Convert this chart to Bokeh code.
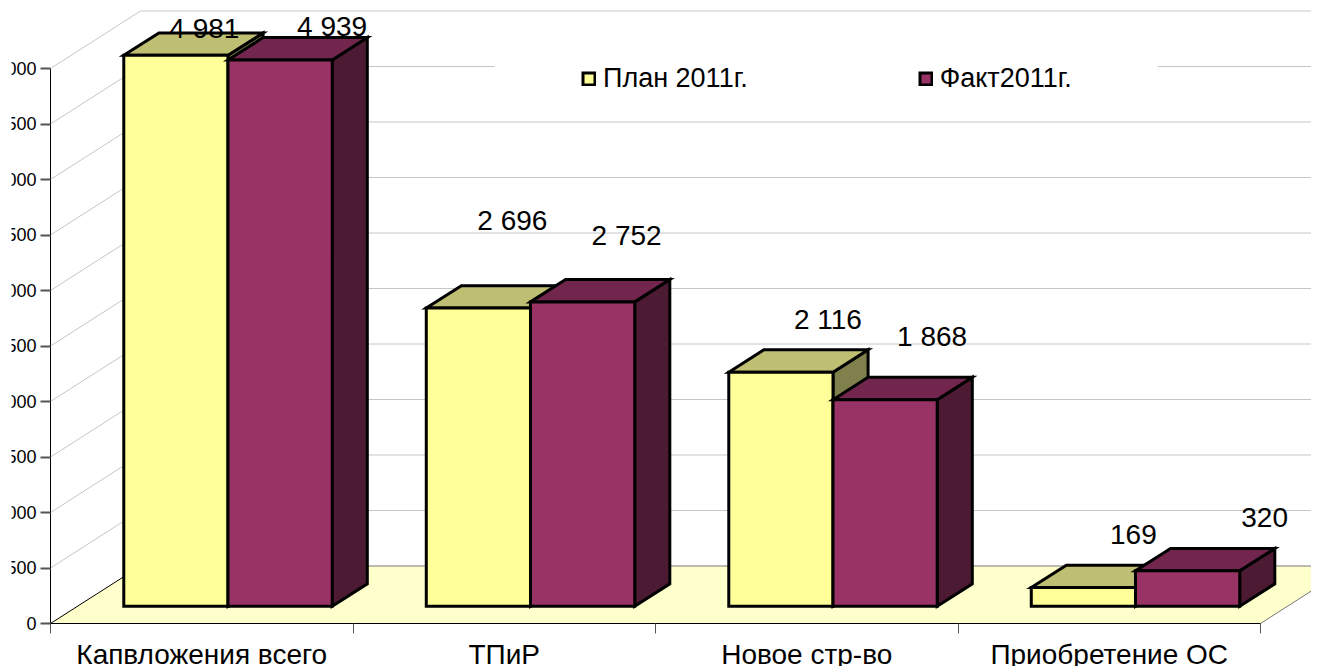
from bokeh.plotting import figure
from bokeh.embed import file_html
from bokeh.resources import INLINE
from bokeh.core.properties import value
from bokeh.models import (ColumnDataSource, LinearAxis, FixedTicker, Legend, LegendItem,
                          BoxAnnotation)

categories = ["Капвложения всего", "ТПиР", "Новое стр-во", "Приобретение ОС"]
plan = [4981, 2696, 2116, 169]
fact = [4939, 2752, 1868, 320]
y_ticks = [0, 500, 1000, 1500, 2000, 2500, 3000, 3500, 4000, 4500, 5000]
y_tick_labels = ["0", "500", "1 000", "1 500", "2 000", "2 500", "3 000", "3 500", "4 000", "4 500", "5 000"]
plan_label = ["4 981", "2 696", "2 116", "169"]
fact_label = ["4 939", "2 752", "1 868", "320"]
plan_label_off = [(28.5, -27), (34, -88), (47, -53), (50, -53)]
fact_label_off = [(52, -33), (44, -66), (47, -63), (77, -53)]

FONT = "Liberation Sans"
PX_X = 302.5      # pixels per category
PX_Y = 0.111      # pixels per value unit
FIG_L, FIG_T, FIG_R, FIG_B = 11, 0, 1311, 666
AX_X, AX_Y = 50, 623
DEPTH_X = 90 / PX_X
DEPTH_Y = 57.5 / PX_Y
BAR_OFF = 0.153
BAR_W = 0.3445
D0, D1 = 0.3, 0.69
BAR_SCALE = 0.9964

p = figure(width=FIG_R - FIG_L, height=FIG_B - FIG_T, output_backend="svg", toolbar_location=None,
           x_range=((FIG_L - AX_X) / PX_X, (FIG_R - AX_X) / PX_X),
           y_range=((AX_Y - FIG_B) / PX_Y, (AX_Y - FIG_T) / PX_Y),
           x_axis_type=None, y_axis_type=None, min_border=0, outline_line_color=None)
p.margin = (0, 0, 0, FIG_L)
p.grid.visible = False
p.background_fill_color = "white"

n = len(categories)
# floor
p.patch([0, n, n + DEPTH_X, DEPTH_X], [0, 0, DEPTH_Y, DEPTH_Y], fill_color="#FFFFCC", line_color=None)
# walls
far = n + DEPTH_X + 1
p.multi_line([[0, DEPTH_X, far] for t in y_ticks[1:]],
             [[t, t + DEPTH_Y, t + DEPTH_Y] for t in y_ticks[1:]], line_color="#c6c6c6", line_width=1)
p.line([DEPTH_X, far], [DEPTH_Y, DEPTH_Y], line_color="#777777", line_width=1)
p.line([n, n + DEPTH_X], [0, DEPTH_Y], line_color="#777777", line_width=1)
p.line([0, DEPTH_X], [0, DEPTH_Y], line_color="black", line_width=1)


def bar(idx, vals, front, top, side):
    x0 = [i + BAR_OFF + idx * BAR_W + D0 * DEPTH_X for i in range(n)]
    x1 = [x + BAR_W for x in x0]
    y0 = [D0 * DEPTH_Y] * n
    y1 = [y + v * BAR_SCALE for y, v in zip(y0, vals)]
    dx, dy = (D1 - D0) * DEPTH_X, (D1 - D0) * DEPTH_Y
    out = None
    for i in range(n):
        style = dict(line_color="black", line_width=3, line_join="miter")
        p.patch([x1[i], x1[i] + dx, x1[i] + dx, x1[i]],
                [y0[i], y0[i] + dy, y1[i] + dy, y1[i]], fill_color=side, **style)
        p.patch([x0[i], x0[i] + dx, x1[i] + dx, x1[i]],
                [y1[i], y1[i] + dy, y1[i] + dy, y1[i]], fill_color=top, **style)
        r = p.quad(left=[x0[i]], right=[x1[i]], bottom=[y0[i]], top=[y1[i]], fill_color=front, **style)
        out = out or r
    return out, x0, x1, y1


bars = []
for idx, (vals, front, top, side) in enumerate([(plan, "#FFFF99", "#BFBF73", "#80804D"),
                                                 (fact, "#993366", "#73264D", "#4D1A33")]):
    bars.append(bar(idx, vals, front, top, side))

for (r, x0, x1, y1), labels, offs in zip(bars, [plan_label, fact_label], [plan_label_off, fact_label_off]):
    src = ColumnDataSource(dict(x=[(a + b) / 2 for a, b in zip(x0, x1)], y=y1, t=labels,
                                xo=[o[0] for o in offs], yo=[o[1] for o in offs]))
    p.text("x", "y", text="t", source=src, x_offset="xo", y_offset="yo", text_align="center",
           text_baseline="middle", text_font=value(FONT), text_font_size="28px", text_color="black")

# axes
yax = LinearAxis(fixed_location=0, bounds=(0, 5000),
                 ticker=FixedTicker(ticks=y_ticks),
                 major_label_overrides=dict(zip(y_ticks, y_tick_labels)))
yax.major_label_text_font = FONT
yax.major_label_text_font_size = "18px"
yax.major_label_text_color = "black"
yax.major_label_standoff = 4
yax.major_tick_in = 0
yax.major_tick_out = 10
yax.major_tick_line_color = "#555555"
yax.major_tick_line_width = 2
yax.minor_tick_line_color = None
yax.axis_line_color = "black"
yax.axis_line_width = 1
p.add_layout(yax, "left")

centers = [i + 0.5 for i in range(n)]
xax = LinearAxis(fixed_location=0, bounds=(0, n),
                 ticker=FixedTicker(ticks=centers, minor_ticks=list(range(n + 1))),
                 major_label_overrides=dict(zip(centers, categories)))
xax.major_label_text_font = FONT
xax.major_label_text_font_size = "28px"
xax.major_label_text_color = "black"
xax.major_label_standoff = 5
xax.major_tick_in = 0
xax.major_tick_out = 0
xax.minor_tick_in = 0
xax.minor_tick_out = 10
xax.minor_tick_line_color = "#555555"
xax.minor_tick_line_width = 1
xax.axis_line_color = "black"
xax.axis_line_width = 1
p.add_layout(xax, "below")

# legend
p.add_layout(BoxAnnotation(left=494 - FIG_L, right=1157 - FIG_L, top=FIG_B - 50, bottom=FIG_B - 100,
                           left_units="screen", right_units="screen", top_units="screen", bottom_units="screen",
                           fill_color="white", fill_alpha=1, line_color=None))
legend = Legend(items=[LegendItem(label=value("План 2011г."), renderers=[bars[0][0]]),
                       LegendItem(label=value("Факт2011г."), renderers=[bars[1][0]])],
                orientation="horizontal", location=(581 - FIG_L, FIG_B - 94), padding=0, margin=0,
                spacing=170, glyph_width=15, glyph_height=15, label_standoff=7,
                label_text_font=FONT, label_text_font_size="27px", label_text_color="black",
                background_fill_alpha=0, border_line_color=None, level="overlay")
p.add_layout(legend, "center")

open("out.html", "w").write(file_html(p, INLINE))
